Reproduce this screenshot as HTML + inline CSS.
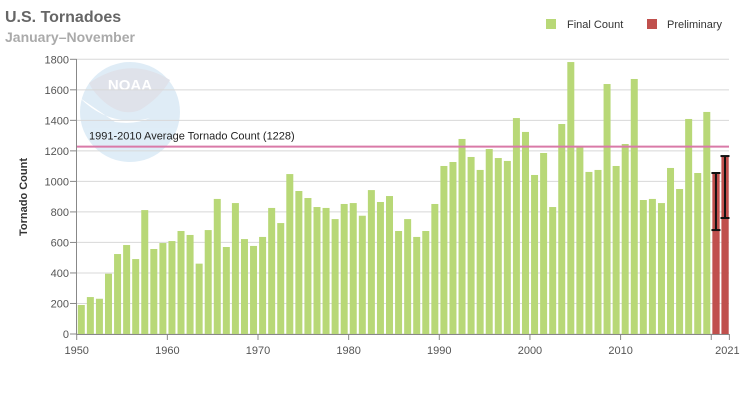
<!DOCTYPE html>
<html><head><meta charset="utf-8"><style>
body{margin:0;background:#fff;}
svg{display:block;font-family:"Liberation Sans","DejaVu Sans",sans-serif;}
</style></head><body>
<svg id="chart" width="750" height="400">
  <g opacity="0.9">
    <circle cx="130" cy="112" r="50" fill="#dcebf6"/>
    <path d="M89,83 Q130,55 170,80 Q160,98 140,110 Q120,118 100,98 Q92,90 89,83 Z" fill="#dcdfe8"/>
    <path d="M80,98 Q110,128 150,118 Q135,125 115,122 Z" fill="#ffffff"/>
    <text x="130" y="90" text-anchor="middle" font-size="15" font-weight="bold" fill="#fff">NOAA</text>
  </g>
  <text x="5" y="22" font-size="16" font-weight="bold" fill="#666">U.S. Tornadoes</text>
  <text x="5" y="42" font-size="14" font-weight="bold" fill="#aaa">January–November</text>
  <g>
    <rect x="546" y="19" width="10" height="10" fill="#b8d877"/>
    <text x="567" y="28" font-size="11" fill="#333">Final Count</text>
    <rect x="647" y="19" width="10" height="10" fill="#c0504d"/>
    <text x="667" y="28" font-size="11" fill="#333">Preliminary</text>
  </g>
  <text transform="translate(27,197) rotate(-90)" text-anchor="middle" font-size="11" font-weight="bold" fill="#333">Tornado Count</text>
  <g id="grid"></g><g id="bars"></g><g id="axes"></g>
</svg>
<script>
const years=[];for(let y=1950;y<=2019;y++)years.push(y);
const finalCounts=[190,242,231,395,524,583,491,812,557,596,609,675,649,461,681,885,570,858,622,577,636,826,727,1048,937,891,832,826,753,852,858,775,943,865,904,675,753,636,675,852,1101,1127,1278,1160,1075,1212,1153,1134,1415,1324,1042,1186,832,1376,1782,1225,1062,1075,1638,1101,1245,1671,878,885,858,1088,950,1409,1055,1455];
const prelimYears=[2020,2021];
const prelimCounts=[1055,1166];
const prelimLow=[681,760];
const prelimHigh=[1055,1166];
const yTicks=[0,200,400,600,800,1000,1200,1400,1600,1800];
const xTicks=[1950,1960,1970,1980,1990,2000,2010];
const avgValue=1228;
const NS='http://www.w3.org/2000/svg';
const x0=76.7,yw=9.065,yBase=334,ys=274.7/1800;
const X=y=>x0+(y-1950)*yw;
const Y=v=>yBase-v*ys;
function mk(p,t,a){const e=document.createElementNS(NS,t);for(const k in a)e.setAttribute(k,a[k]);p.appendChild(e);return e;}
const grid=document.getElementById('grid'),bars=document.getElementById('bars'),axes=document.getElementById('axes');
yTicks.forEach(v=>{
  const l=mk(grid,'line',{x1:76,x2:729,y1:Y(v),y2:Y(v),stroke:'#d8d8d8','stroke-width':1});
  
  
  mk(axes,'line',{x1:70,x2:76.5,y1:Y(v),y2:Y(v),stroke:'#888'});
  const t=mk(axes,'text',{x:69,y:Y(v)+4,'text-anchor':'end','font-size':11,fill:'#555'});
  t.textContent=v;
  
  
});
years.forEach((yr,i)=>{
  const r=mk(bars,'rect',{x:X(yr)+1.1,y:Y(finalCounts[i]),width:7,height:yBase-Y(finalCounts[i]),fill:'#b8d877'});
  
  
});
prelimYears.forEach((yr,i)=>{
  const r=mk(bars,'rect',{x:X(yr)+1.1,y:Y(prelimCounts[i]),width:7.3,height:yBase-Y(prelimCounts[i]),fill:'#c0504d'});
  
  
  const cx=X(yr)+4.7;
  const g=mk(bars,'g',{stroke:'#111','stroke-width':2});
  
  
  mk(g,'line',{x1:cx,x2:cx,y1:Y(prelimHigh[i]),y2:Y(prelimLow[i])});
  mk(g,'line',{x1:cx-4.5,x2:cx+4.5,y1:Y(prelimHigh[i]),y2:Y(prelimHigh[i])});
  mk(g,'line',{x1:cx-4.5,x2:cx+4.5,y1:Y(prelimLow[i]),y2:Y(prelimLow[i])});
});
const avg=mk(bars,'line',{x1:76,x2:729,y1:Y(avgValue),y2:Y(avgValue),stroke:'#d97aa8','stroke-width':2});


const at=mk(bars,'text',{x:89,y:Y(avgValue)-7,'font-size':11,fill:'#222'});
at.textContent='1991-2010 Average Tornado Count ('+avgValue+')';


mk(axes,'line',{x1:76.5,x2:76.5,y1:59,y2:334,stroke:'#888'});
mk(axes,'line',{x1:76,x2:729.5,y1:334.5,y2:334.5,stroke:'#888'});
xTicks.concat([2020,2022]).forEach(yr=>{
  mk(axes,'line',{x1:X(yr),x2:X(yr),y1:334,y2:340,stroke:'#888'});
});
xTicks.forEach(yr=>{
  const t=mk(axes,'text',{x:X(yr),y:354,'text-anchor':'middle','font-size':11,fill:'#555'});
  t.textContent=yr;
  
  
});
const lt=mk(axes,'text',{x:X(2022)-2,y:354,'text-anchor':'middle','font-size':11,fill:'#555'});
lt.textContent='2021';


</script>
</body></html>
